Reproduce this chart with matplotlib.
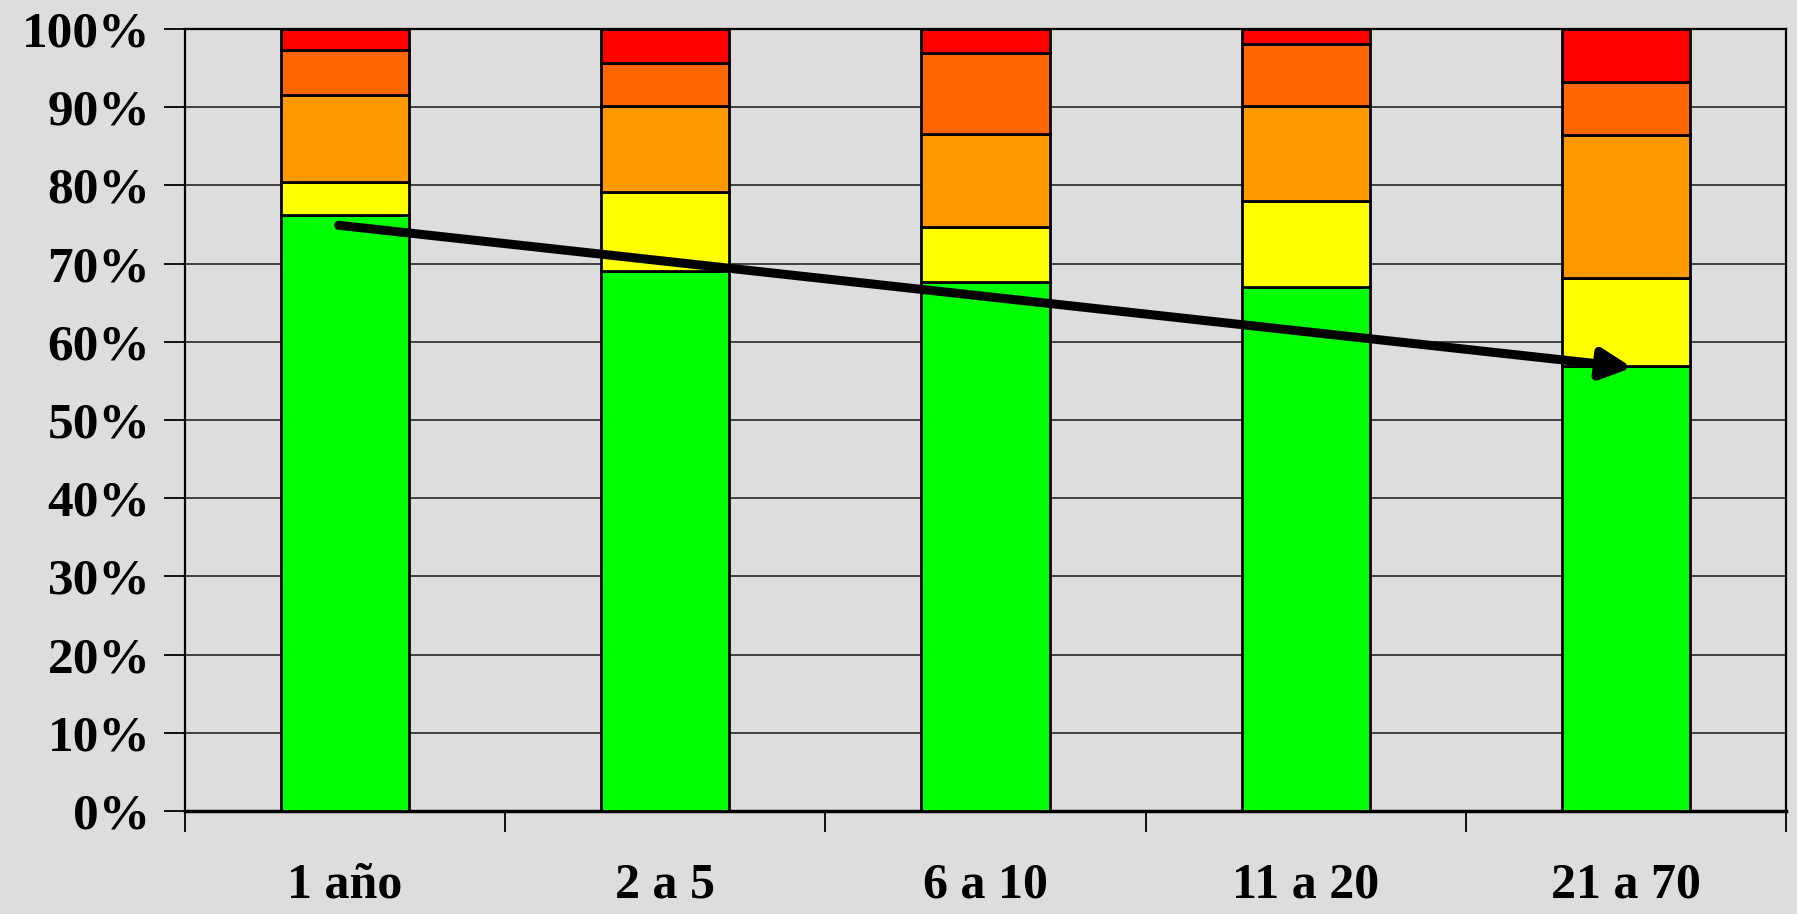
import numpy as np
import matplotlib
matplotlib.use('Agg')
from matplotlib import pyplot as plt

# datos (porcentaje por grupo de edad)
categorias = ['1 año', '2 a 5', '6 a 10', '11 a 20', '21 a 70']
verde = [76.2, 69.0, 67.6, 67.0, 56.9]
amarillo = [4.2, 10.1, 7.1, 11.0, 11.3]
naranja = [11.2, 11.0, 11.9, 12.1, 18.3]
naranja_osc = [5.7, 5.6, 10.3, 8.0, 6.7]
rojo = [2.7, 4.3, 3.1, 1.9, 6.8]
ticks_y = [0, 10, 20, 30, 40, 50, 60, 70, 80, 90, 100]

# flecha de tendencia (indice de grupo, %)
flecha_ini = (-0.02, 74.9)
flecha_fin = (4.02, 56.7)

fondo = '#dddddd'
plt.rcParams['font.family'] = ['Liberation Serif', 'DejaVu Serif']
plt.rcParams['font.weight'] = 'bold'

fig = plt.figure(figsize=(17.97, 9.14), dpi=100, facecolor=fondo)
ax = fig.add_axes([185 / 1797, 1 - 811 / 914, (1786 - 185) / 1797, (811 - 29) / 914])
ax.set_facecolor(fondo)

x = np.arange(len(categorias))
series = [(verde, '#00ff00'), (amarillo, '#ffff00'), (naranja, '#ff9900'),
          (naranja_osc, '#ff6600'), (rojo, '#ff0000')]
base = np.zeros(len(categorias))
for vals, col in series:
    ax.bar(x, vals, 0.40, bottom=base, color=col, edgecolor='black', linewidth=2.0, zorder=3)
    base += np.array(vals)

ax.set_xlim(-0.5, len(categorias) - 0.5)
ax.set_ylim(0, 100)
ax.set_yticks(ticks_y)
ax.set_yticklabels([f'{t}%' for t in ticks_y], fontsize=37, fontweight='bold')
ax.yaxis.grid(True, color='#333333', linewidth=1.3, zorder=0)
ax.set_axisbelow(True)

ax.set_xticks(x)
ax.set_xticklabels(categorias, fontsize=36, fontweight='bold')
ax.set_xticks(np.arange(-0.5, len(categorias)), minor=True)
ax.tick_params(axis='x', which='major', length=0, pad=37)
ax.tick_params(axis='x', which='minor', length=15, width=1.3, direction='out')
ax.tick_params(axis='y', length=15, width=1.3, direction='out', pad=10)

for lado in ['left', 'right', 'top']:
    ax.spines[lado].set_linewidth(1.6)
ax.spines['bottom'].set_linewidth(2.5)

ax.annotate('', xy=flecha_fin, xytext=flecha_ini,
            arrowprops=dict(arrowstyle='-|>,head_length=0.6,head_width=0.3',
                            color='black', lw=6.5, mutation_scale=30,
                            shrinkA=0, shrinkB=0),
            zorder=5)

fig.savefig('out.png', dpi=100, facecolor=fondo)
